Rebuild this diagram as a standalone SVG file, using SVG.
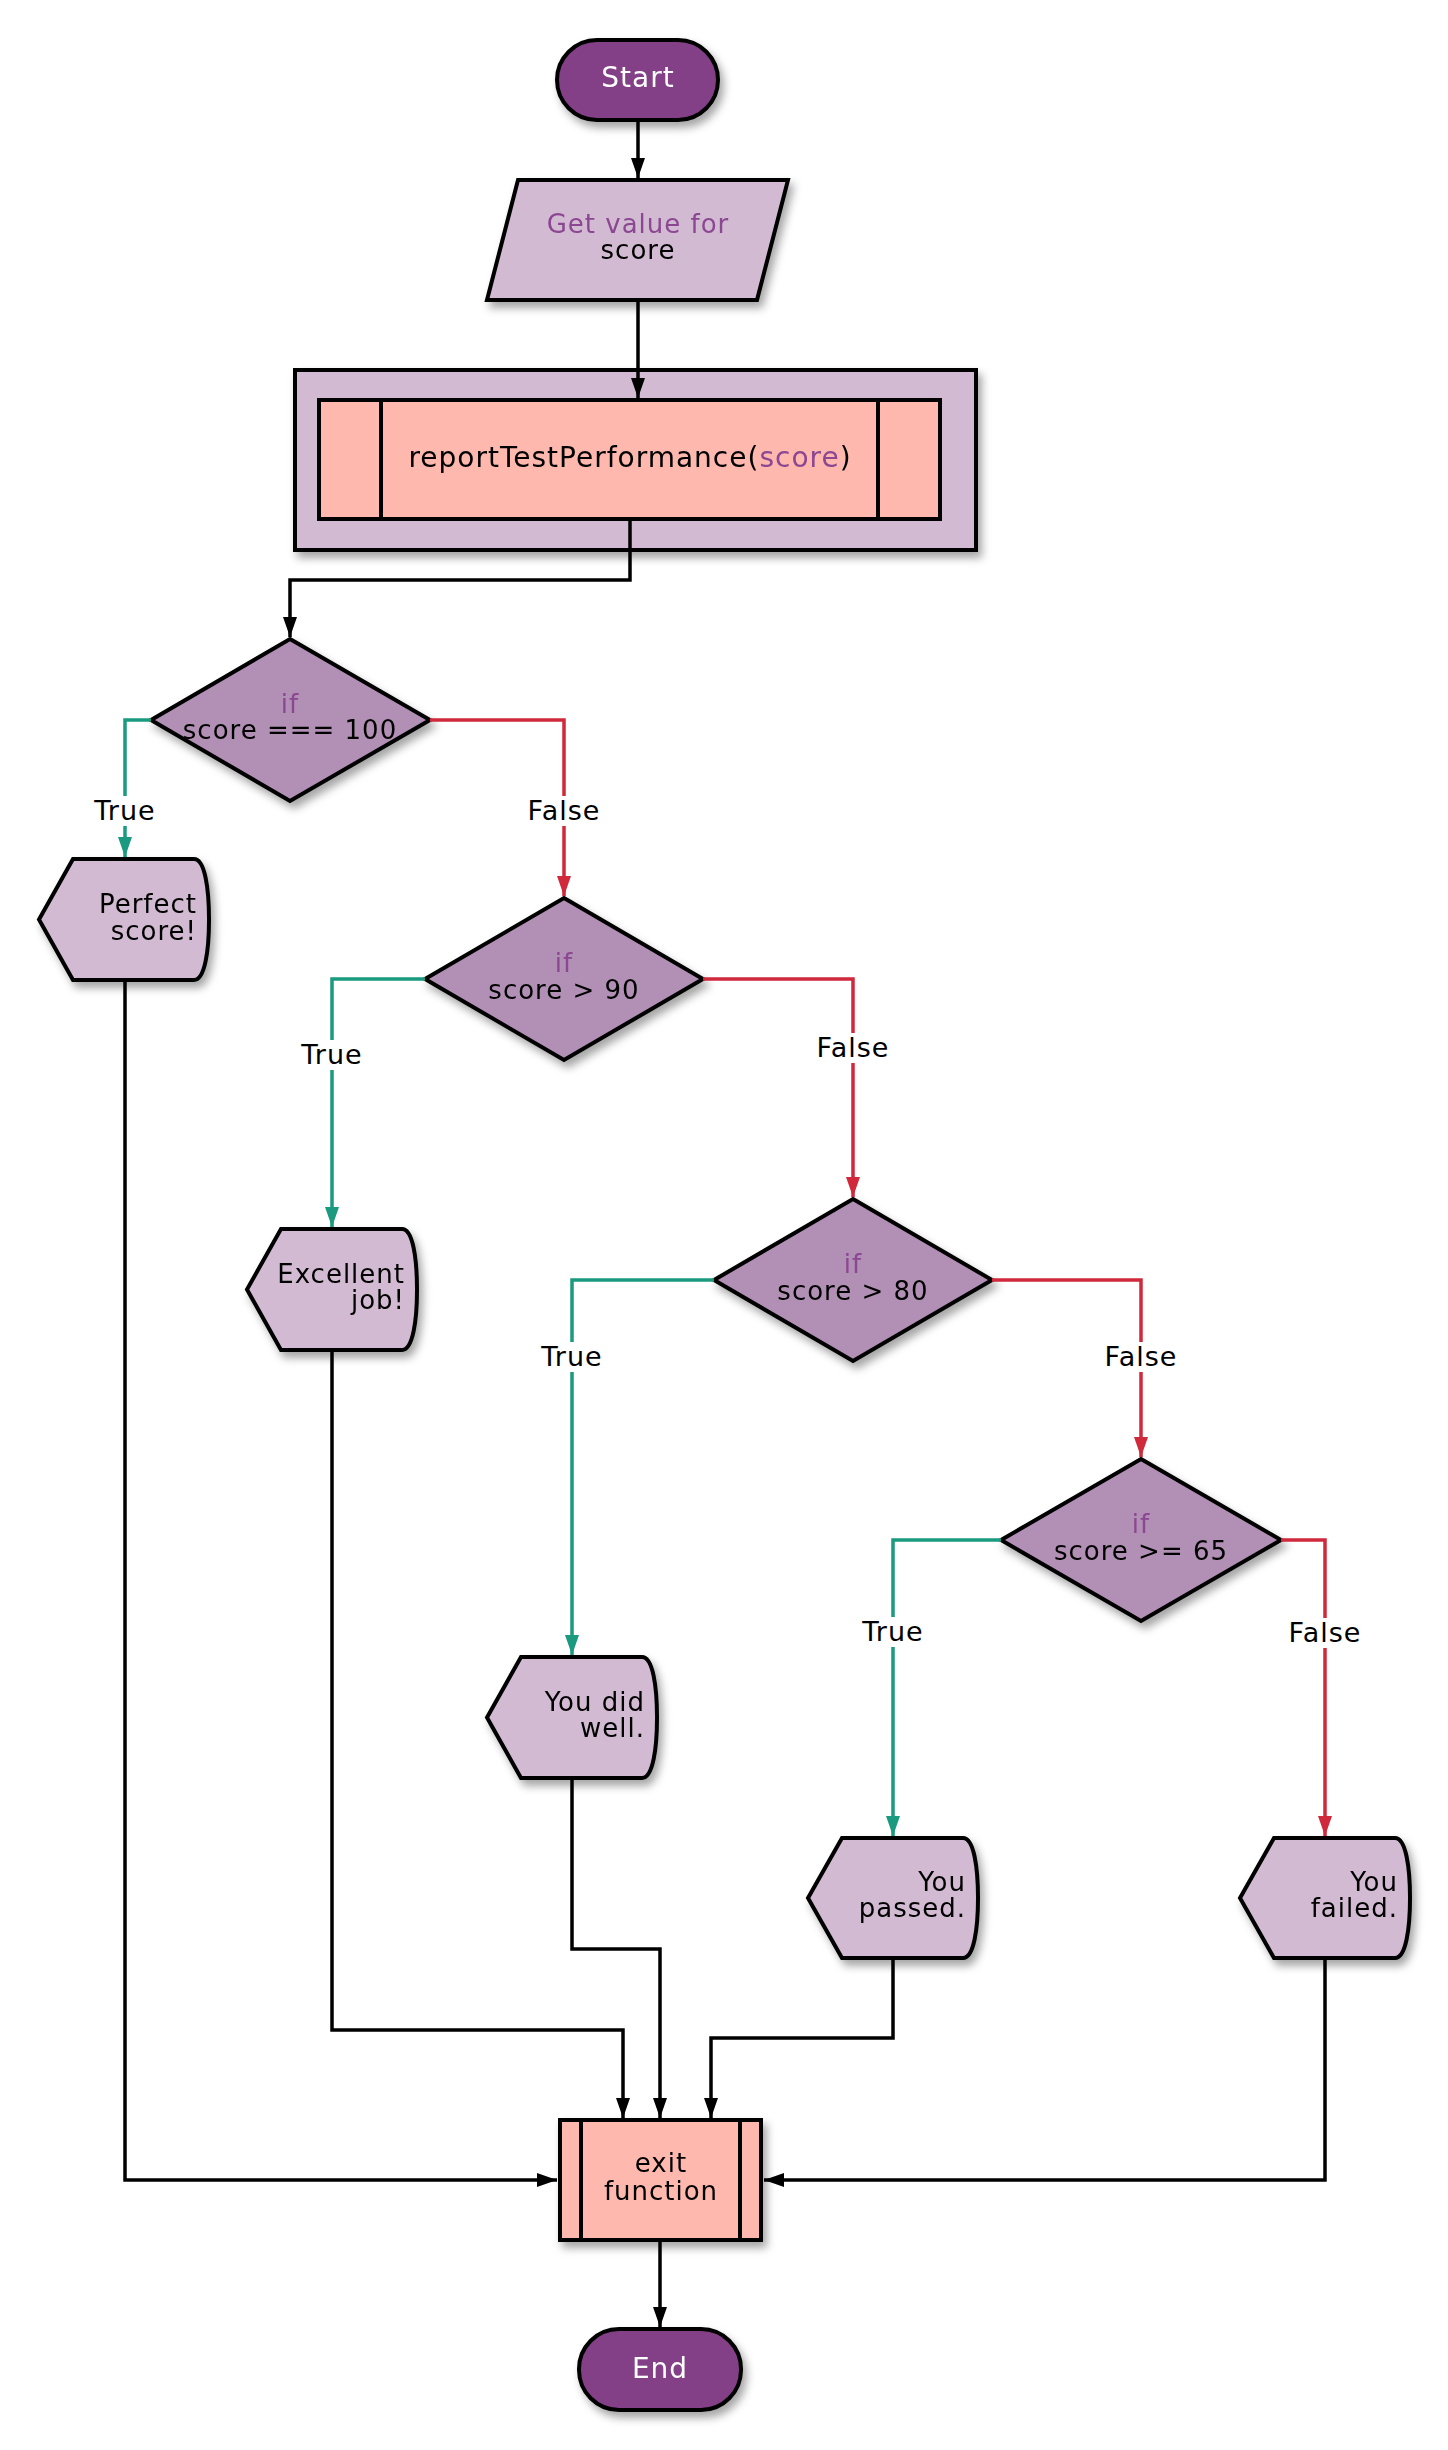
<svg xmlns="http://www.w3.org/2000/svg" width="1448" height="2450" viewBox="0 0 1448 2450">
<style>
  text { font-family: "DejaVu Sans", "Liberation Sans", sans-serif; font-size: 26px; letter-spacing: 1px; fill: #000; }
  .term { fill: #833f87; stroke: #000; stroke-width: 4; }
  .light { fill: #d2bbd2; stroke: #000; stroke-width: 4; }
  .salmon { fill: #ffb8ae; stroke: #000; stroke-width: 4; }
  .dia { fill: #b290b5; stroke: #000; stroke-width: 4; }
  .div { stroke: #000; stroke-width: 4; }
  .white { fill: #fff; font-size: 28px; }
  .purple { fill: #8b4691; }
  .mid { text-anchor: middle; }
  .end { text-anchor: end; }
  .big { font-size: 28px; }
  .lbl { font-size: 27px; text-anchor: middle; }
  .c { fill: none; stroke: #000; stroke-width: 3.5; }
  .g { fill: none; stroke: #1a9a7e; stroke-width: 3.5; }
  .r { fill: none; stroke: #d0293b; stroke-width: 3.5; }
  .bg { fill: #fff; }
</style>
<defs>
  <filter id="sh" x="-20%" y="-20%" width="150%" height="150%">
    <feDropShadow dx="4" dy="6" stdDeviation="4" flood-color="#000" flood-opacity="0.35"/>
  </filter>
  <marker id="ab" markerUnits="userSpaceOnUse" markerWidth="20" markerHeight="14" refX="20" refY="7" orient="auto">
    <path d="M0,0 L20,7 L0,14 z" fill="#000"/>
  </marker>
  <marker id="ag" markerUnits="userSpaceOnUse" markerWidth="20" markerHeight="14" refX="20" refY="7" orient="auto">
    <path d="M0,0 L20,7 L0,14 z" fill="#1a9a7e"/>
  </marker>
  <marker id="ar" markerUnits="userSpaceOnUse" markerWidth="20" markerHeight="14" refX="20" refY="7" orient="auto">
    <path d="M0,0 L20,7 L0,14 z" fill="#d0293b"/>
  </marker>
</defs>
<rect width="1448" height="2450" fill="#fff"/>

<g id="start" filter="url(#sh)">
  <rect class="term" x="557" y="40" width="161" height="80" rx="40" ry="40"/>
  <text class="white mid" x="638" y="87">Start</text>
</g>

<g id="input" filter="url(#sh)">
  <polygon class="light" points="518,180 788,180 757,300 487,300"/>
  <text class="purple mid" x="638" y="233">Get value for</text>
  <text class="mid" x="638" y="259">score</text>
</g>

<g id="function" filter="url(#sh)">
  <rect class="light" x="295" y="370" width="681" height="180"/>
  <rect class="salmon" x="319" y="400" width="621" height="119"/>
  <line class="div" x1="381" y1="400" x2="381" y2="519"/>
  <line class="div" x1="878" y1="400" x2="878" y2="519"/>
  <text class="mid big" x="630" y="467">reportTestPerformance(<tspan class="purple">score</tspan>)</text>
</g>

<g id="d1" filter="url(#sh)">
  <polygon class="dia" points="290,639 430,720 290,801 151,720"/>
  <text class="purple mid" x="290" y="713">if</text>
  <text class="mid" x="290" y="739">score === 100</text>
</g>

<g id="d2" filter="url(#sh)">
  <polygon class="dia" points="564,898 703,979 564,1060 425,979"/>
  <text class="purple mid" x="564" y="972">if</text>
  <text class="mid" x="564" y="999">score &gt; 90</text>
</g>

<g id="d3" filter="url(#sh)">
  <polygon class="dia" points="853,1199 992,1280 853,1361 714,1280"/>
  <text class="purple mid" x="853" y="1273">if</text>
  <text class="mid" x="853" y="1300">score &gt; 80</text>
</g>

<g id="d4" filter="url(#sh)">
  <polygon class="dia" points="1141,1459 1281,1540 1141,1621 1001,1540"/>
  <text class="purple mid" x="1141" y="1533">if</text>
  <text class="mid" x="1141" y="1560">score &gt;= 65</text>
</g>

<g id="perfect" filter="url(#sh)">
  <path class="light" d="M39,919.5 L73,859 L194,859 C205,859 209,889 209,919.5 C209,950 205,980 194,980 L73,980 Z"/>
  <text class="end" x="197" y="913">Perfect</text>
  <text class="end" x="197" y="940">score!</text>
</g>

<g id="excellent" filter="url(#sh)">
  <path class="light" d="M247,1289.5 L281,1229 L402,1229 C413,1229 417,1259 417,1289.5 C417,1320 413,1350 402,1350 L281,1350 Z"/>
  <text class="end" x="405" y="1283">Excellent</text>
  <text class="end" x="405" y="1309">job!</text>
</g>

<g id="didwell" filter="url(#sh)">
  <path class="light" d="M487,1717.5 L521,1657 L642,1657 C653,1657 657,1687 657,1717.5 C657,1748 653,1778 642,1778 L521,1778 Z"/>
  <text class="end" x="645" y="1711">You did</text>
  <text class="end" x="645" y="1737">well.</text>
</g>

<g id="passed" filter="url(#sh)">
  <path class="light" d="M808,1898 L842,1838 L963,1838 C974,1838 978,1868 978,1898 C978,1928 974,1958 963,1958 L842,1958 Z"/>
  <text class="end" x="966" y="1891">You</text>
  <text class="end" x="966" y="1917">passed.</text>
</g>

<g id="failed" filter="url(#sh)">
  <path class="light" d="M1240,1898 L1274,1838 L1395,1838 C1406,1838 1410,1868 1410,1898 C1410,1928 1406,1958 1395,1958 L1274,1958 Z"/>
  <text class="end" x="1398" y="1891">You</text>
  <text class="end" x="1398" y="1917">failed.</text>
</g>

<g id="exit" filter="url(#sh)">
  <rect class="salmon" x="560" y="2120" width="201" height="120"/>
  <line class="div" x1="581" y1="2120" x2="581" y2="2240"/>
  <line class="div" x1="740" y1="2120" x2="740" y2="2240"/>
  <text class="mid" x="661" y="2172">exit</text>
  <text class="mid" x="661" y="2200">function</text>
</g>

<g id="end" filter="url(#sh)">
  <rect class="term" x="579" y="2329" width="162" height="81" rx="40" ry="40"/>
  <text class="white mid" x="660" y="2378">End</text>
</g>

<g id="connectors">
  <path class="c" d="M638,122 L638,178" marker-end="url(#ab)"/>
  <path class="c" d="M638,302 L638,398" marker-end="url(#ab)"/>
  <path class="c" d="M630,521 L630,580 L290,580 L290,637" marker-end="url(#ab)"/>
  <path class="g" d="M151,720 L125,720 L125,857" marker-end="url(#ag)"/>
  <path class="r" d="M430,720 L564,720 L564,896" marker-end="url(#ar)"/>
  <path class="g" d="M425,979 L332,979 L332,1227" marker-end="url(#ag)"/>
  <path class="r" d="M703,979 L853,979 L853,1197" marker-end="url(#ar)"/>
  <path class="g" d="M714,1280 L572,1280 L572,1655" marker-end="url(#ag)"/>
  <path class="r" d="M992,1280 L1141,1280 L1141,1457" marker-end="url(#ar)"/>
  <path class="g" d="M1001,1540 L893,1540 L893,1836" marker-end="url(#ag)"/>
  <path class="r" d="M1281,1540 L1325,1540 L1325,1836" marker-end="url(#ar)"/>
  <path class="c" d="M125,982 L125,2180 L557,2180" marker-end="url(#ab)"/>
  <path class="c" d="M332,1352 L332,2030 L623,2030 L623,2118" marker-end="url(#ab)"/>
  <path class="c" d="M572,1780 L572,1949 L660,1949 L660,2118" marker-end="url(#ab)"/>
  <path class="c" d="M893,1960 L893,2038 L711,2038 L711,2118" marker-end="url(#ab)"/>
  <path class="c" d="M1325,1960 L1325,2180 L764,2180" marker-end="url(#ab)"/>
  <path class="c" d="M660,2242 L660,2327" marker-end="url(#ab)"/>
  <g id="labels">
    <rect class="bg" x="93" y="796" width="64" height="30"/><text class="lbl" x="125" y="820">True</text>
    <rect class="bg" x="524" y="796" width="80" height="30"/><text class="lbl" x="564" y="820">False</text>
    <rect class="bg" x="300" y="1040" width="64" height="30"/><text class="lbl" x="332" y="1064">True</text>
    <rect class="bg" x="813" y="1033" width="80" height="30"/><text class="lbl" x="853" y="1057">False</text>
    <rect class="bg" x="540" y="1342" width="64" height="30"/><text class="lbl" x="572" y="1366">True</text>
    <rect class="bg" x="1101" y="1342" width="80" height="30"/><text class="lbl" x="1141" y="1366">False</text>
    <rect class="bg" x="861" y="1617" width="64" height="30"/><text class="lbl" x="893" y="1641">True</text>
    <rect class="bg" x="1285" y="1618" width="80" height="30"/><text class="lbl" x="1325" y="1642">False</text>
  </g>
</g>
</svg>
